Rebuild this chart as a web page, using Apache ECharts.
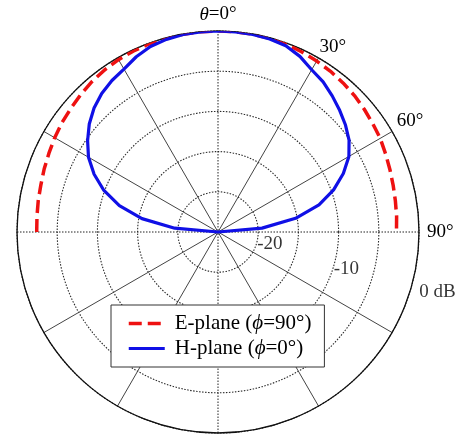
<!DOCTYPE html>
<html>
<head>
<meta charset="utf-8">
<style>
  html, body { margin: 0; padding: 0; background: #fff; }
  #chart { width: 464px; height: 434px; }
</style>
<script src="https://cdn.jsdelivr.net/npm/echarts@6/dist/echarts.min.js"></script>
</head>
<body>
<div id="chart"></div>
<script>
// Elevation angle theta (deg), measured clockwise from broadside
const thetaDeg = [-90, -85, -80, -75, -70, -65, -60, -55, -50, -45, -40, -35, -30, -25, -20, -15, -10, -5,
                  0, 5, 10, 15, 20, 25, 30, 35, 40, 45, 50, 55, 60, 65, 70, 75, 80, 85, 90];

// Normalized gain (dB), E-plane cut (phi = 90 deg)
const ePlaneDb = [-2.45, -2.4, -2.3, -2.2, -2.0, -1.8, -1.55, -1.3, -1.1, -0.85, -0.6, -0.4, -0.25, -0.15, -0.08, -0.04, -0.02, 0,
                  0, 0, -0.03, -0.08, -0.15, -0.3, -0.45, -0.6, -0.8, -1.0, -1.25, -1.5, -1.7, -2.0, -2.25, -2.45, -2.6, -2.7, -2.8];

// Normalized gain (dB), H-plane cut (phi = 0 deg)
const hPlaneDb = [-25, -19.6, -15.4, -12.3, -9.9, -8.0, -6.4, -5.2, -4.1, -3.2, -2.5, -2.0, -1.6, -0.95, -0.45, -0.2, -0.06, -0.02,
                  0, -0.02, -0.05, -0.15, -0.35, -0.9, -1.7, -2.2, -2.9, -3.6, -4.3, -5.1, -6.2, -7.8, -9.7, -12.0, -15.2, -19.5, -25];

const seriesNames = ['E-plane (ϕ=90°)', 'H-plane (ϕ=0°)'];

// Radial scale (dB) and the rings that carry a label
const radialMin = -25;
const radialMax = 0;
const radialStep = 5;
const radialLabelValues = [-20, -10, 0];
const radialLabelText = ['-20', '-10', '0 dB'];

// Angular labels shown on the right half
const angleLabelValues = [0, 30, 60, 90];
const angleLabelText = ['{it|θ}{t|=0°}', '{a|30°}', '{b|60°}', '{c|90°}'];

const serif = '"Liberation Serif", "Times New Roman", serif';

const eColor = '#ee1111';
const hColor = '#1010e6';
const eDash = [13, 6];

const toPolar = (vals) => vals.map((v, i) => [v, thetaDeg[i]]);

const polarBase = { center: [218, 232], radius: 201 };

const labelFont = { fontFamily: serif, fontSize: 19, color: '#000' };

const chart = echarts.init(document.getElementById('chart'), null, { renderer: 'canvas' });

chart.setOption({
  animation: false,
  backgroundColor: '#ffffff',
  polar: [polarBase, polarBase],
  angleAxis: [
    {
      polarIndex: 0,
      type: 'value',
      min: -180,
      max: 180,
      interval: 30,
      startAngle: 270,
      clockwise: true,
      axisLine: { show: true, lineStyle: { color: '#111', width: 1.3 } },
      axisTick: { show: false },
      axisLabel: {
        show: true,
        margin: 2,
        ...labelFont,
        formatter: (v) => {
          const k = angleLabelValues.indexOf(v);
          return k >= 0 ? angleLabelText[k] : '';
        },
        rich: {
          it: { ...labelFont, fontStyle: 'italic', padding: [0, 0, 5, 0] },
          t: { ...labelFont, padding: [0, 0, 5, 0] },
          a: { ...labelFont },
          b: { ...labelFont, padding: [0, 0, 0, 3] },
          c: { ...labelFont, padding: [0, 0, 0, 6] }
        }
      },
      // principal axes are drawn dotted by the second polar; skip them here
      splitLine: { show: true, lineStyle: { color: ['rgba(0,0,0,0)', '#444', '#444'], width: 1 } }
    },
    {
      polarIndex: 1,
      type: 'value',
      min: -180,
      max: 180,
      interval: 90,
      startAngle: 270,
      clockwise: true,
      axisLine: { show: false },
      axisTick: { show: false },
      axisLabel: { show: false },
      splitLine: { show: true, lineStyle: { color: '#222', width: 1, type: [1.5, 1.5] } }
    }
  ],
  radiusAxis: [
    {
      polarIndex: 0,
      type: 'value',
      min: radialMin,
      max: radialMax,
      interval: radialStep,
      axisLine: { show: false },
      axisTick: { show: false },
      axisLabel: { show: false },
      splitLine: { show: true, lineStyle: { color: '#2a2a2a', width: 1.1, type: [1.5, 1.5] } }
    },
    {
      polarIndex: 1,
      type: 'value',
      min: radialMin,
      max: radialMax,
      show: false,
      splitLine: { show: false }
    }
  ],
  legend: {
    orient: 'vertical',
    left: 111,
    top: 305,
    padding: [8, 13, 8, 16],
    itemGap: 4,
    itemWidth: 36,
    itemHeight: 14,
    backgroundColor: '#fff',
    borderColor: '#333',
    borderWidth: 1,
    z: 10,
    itemStyle: { opacity: 0 },
    data: [
      { name: seriesNames[0], itemStyle: { opacity: 0 }, lineStyle: { color: eColor, width: 3.5, type: eDash } },
      { name: seriesNames[1], itemStyle: { opacity: 0 }, lineStyle: { color: hColor, width: 3.2, type: 'solid' } }
    ],
    formatter: (name) => name.replace('ϕ', '{p|ϕ}'),
    textStyle: {
      fontFamily: serif,
      fontSize: 21,
      lineHeight: 21,
      color: '#000',
      padding: [0, 0, 0, 5],
      rich: { p: { fontStyle: 'italic', fontFamily: serif, fontSize: 21, color: '#000' } }
    }
  },
  series: [
    {
      name: seriesNames[0],
      type: 'line',
      coordinateSystem: 'polar',
      polarIndex: 0,
      data: toPolar(ePlaneDb),
      symbol: 'none',
      smooth: false,
      z: 3,
      lineStyle: { color: eColor, width: 3.5, type: eDash },
      itemStyle: { color: eColor }
    },
    {
      name: seriesNames[1],
      type: 'line',
      coordinateSystem: 'polar',
      polarIndex: 0,
      data: toPolar(hPlaneDb),
      symbol: 'none',
      smooth: false,
      z: 4,
      lineStyle: { color: hColor, width: 3.2 },
      itemStyle: { color: hColor }
    },
    {
      // radial scale labels, placed along a ray just below the 90 deg axis
      name: 'radial-labels',
      type: 'scatter',
      coordinateSystem: 'polar',
      polarIndex: 0,
      symbolSize: 0,
      silent: true,
      z: 5,
      data: radialLabelValues.map((v, i) => ({
        value: [v, 108],
        label: i === radialLabelValues.length - 1 ? { offset: [9, -2] } : {}
      })),
      label: {
        show: true,
        position: 'right',
        distance: 1,
        ...labelFont,
        formatter: (p) => radialLabelText[p.dataIndex]
      }
    }
  ]
});
</script>
</body>
</html>
